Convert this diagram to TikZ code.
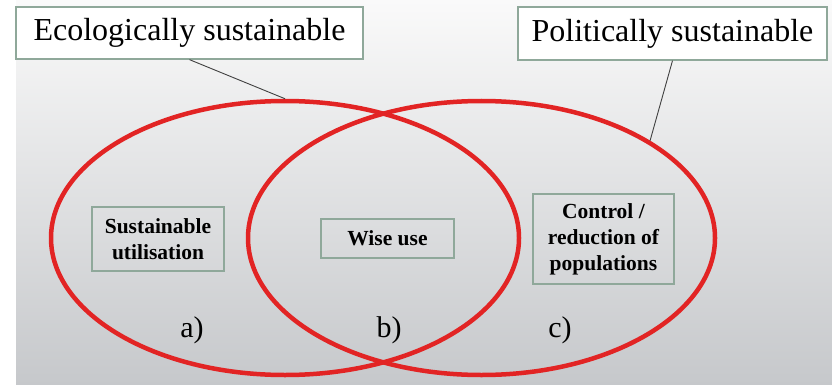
\documentclass[tikz,border=0pt]{standalone}
\usepackage{fontspec}
\setmainfont{Liberation Serif}
\usepackage{xcolor}
\usetikzlibrary{shapes.geometric}

\definecolor{ringred}{RGB}{226,36,36}
\definecolor{boxline}{RGB}{143,168,154}
\definecolor{bgtop}{RGB}{250,250,250}
\definecolor{bgbottom}{RGB}{198,200,203}

\begin{document}
\begin{tikzpicture}[x=1pt, y=-1pt,
    ring/.style={ellipse, draw=ringred, line width=4.5pt, inner sep=0pt},
    title/.style={rectangle, draw=boxline, line width=1.3pt, fill=white, inner sep=0pt, font=\fontsize{32}{38}\selectfont},
    tag/.style={rectangle, draw=boxline, line width=1.3pt, inner sep=0pt, align=center, font=\fontsize{21.5}{26}\selectfont\bfseries},
    part/.style={font=\fontsize{30}{36}\selectfont},
    conn/.style={draw=black!75, line width=0.9pt}
    ]
    \useasboundingbox (0,0) rectangle (832,385);
    \shade[top color=bgtop, bottom color=bgbottom] (16,0) rectangle (832,385);

    \node[ring, minimum width=468pt, minimum height=274pt] (ecoring) at (285,238) {};
    \node[ring, minimum width=467pt, minimum height=274pt] (polring) at (481.5,238) {};

    \node[title, minimum width=347pt, minimum height=52pt] (ecobox) at (189.5,33) {Ecologically sustainable};
    \node[title, minimum width=309pt, minimum height=53pt] (polbox) at (672.5,33.5) {Politically sustainable};

    \node[tag, minimum width=132pt, minimum height=64pt] (utilise) at (158,239) {Sustainable\\utilisation};
    \node[tag, minimum width=133pt, minimum height=39pt] (wise) at (387.5,238.5) {Wise use};
    \node[tag, minimum width=141pt, minimum height=90pt] (control) at (603.5,239) {Control /\\reduction of\\populations};

    \node[part] (pa) at (192,330) {a)};
    \node[part] (pb) at (389,330) {b)};
    \node[part] (pc) at (560,330) {c)};

    \draw[conn] (ecobox.south) -- (ecoring.north);
    \draw[conn] (polbox.south) -- (polring.30);
  \end{tikzpicture}
\end{document}
